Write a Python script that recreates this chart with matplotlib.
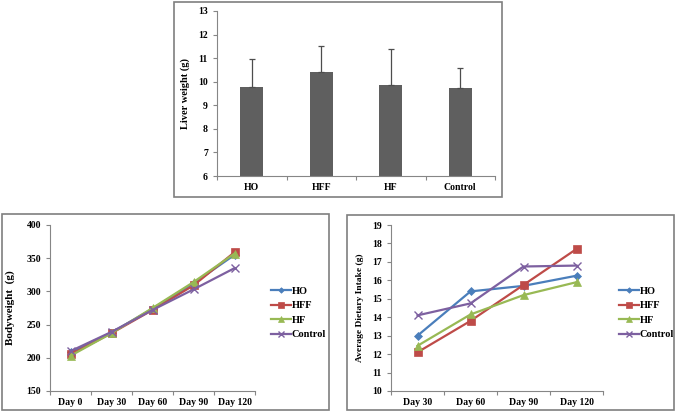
import matplotlib
matplotlib.use("Agg")
import matplotlib.pyplot as plt
from matplotlib.patches import Rectangle
import numpy as np

plt.rcParams['font.family'] = ['Liberation Serif', 'DejaVu Serif']
plt.rcParams['font.weight'] = 'bold'

# Data
liver_groups = ["HO", "HFF", "HF", "Control"]
liver_means = [9.77, 10.43, 9.88, 9.73]
liver_err = [1.21, 1.09, 1.52, 0.84]

bw_days = ["Day 0", "Day 30", "Day 60", "Day 90", "Day 120"]
bw_HO = [208, 238, 274, 312, 355]
bw_HFF = [205, 237, 272, 309, 359]
bw_HF = [203, 237, 275, 314, 357]
bw_Control = [210, 239, 272, 303, 335]

di_days = ["Day 30", "Day 60", "Day 90", "Day 120"]
di_HO = [13.0, 15.4, 15.7, 16.25]
di_HFF = [12.1, 13.8, 15.75, 17.7]
di_HF = [12.45, 14.15, 15.2, 15.9]
di_Control = [14.1, 14.75, 16.75, 16.8]

series_names = ["HO", "HFF", "HF", "Control"]
colors = ["#4a7ebb", "#be4b48", "#98b954", "#7d60a0"]
markers = ["D", "s", "^", "x"]
msizes = [4, 5.5, 5.5, 6]

W, H = 676, 413
fig = plt.figure(figsize=(W/100, H/100), dpi=100)

def ax_px(l, t, r, b):
    return fig.add_axes([l/W, 1-b/H, (r-l)/W, (b-t)/H])

def box_px(l, t, r, b):
    fig.patches.append(Rectangle((l/W, 1-b/H), (r-l)/W, (b-t)/H, transform=fig.transFigure,
                                 fill=False, edgecolor="#7f7f7f", linewidth=1.2))

TICK_FS = 7

def style(ax, ncat):
    for s in ["top", "right"]:
        ax.spines[s].set_visible(False)
    for s in ["left", "bottom"]:
        ax.spines[s].set_color("#868686")
        ax.spines[s].set_linewidth(0.8)
    ax.set_xlim(-0.5, ncat-0.5)
    ax.set_xticks(np.arange(-0.5, ncat, 1.0))
    ax.set_xticks(np.arange(ncat), minor=True)
    ax.tick_params(axis='x', which='major', length=3, color="#868686", labelbottom=False)
    ax.tick_params(axis='x', which='minor', length=0, labelsize=TICK_FS, pad=5)
    ax.tick_params(axis='y', length=3, color="#868686", labelsize=TICK_FS)

def bold_ticks(ax):
    for lab in ax.get_yticklabels() + ax.get_xticklabels(minor=True):
        lab.set_fontweight('bold')

# Boxes
box_px(174, 2, 502, 197)
box_px(2, 214, 329, 410)
box_px(347, 215, 674, 410)

# Top bar chart
ax1 = ax_px(217, 11, 495, 176)
x = np.arange(len(liver_groups))
ax1.bar(x, liver_means, width=0.33, color="#5f5f5f", zorder=2)
ax1.errorbar(x, liver_means, yerr=[np.zeros(len(liver_err)), liver_err], fmt='none',
             ecolor="#4d4d4d", elinewidth=0.9, capsize=2.5, capthick=0.9, zorder=3)
style(ax1, 4)
ax1.set_xticklabels(liver_groups, minor=True)
ax1.set_ylim(6, 13)
ax1.set_yticks(range(6, 14))
bold_ticks(ax1)
ax1.set_ylabel("Liver weight (g)", fontsize=7.5, fontweight='bold', labelpad=6)

leg_kw = dict(frameon=False, prop={'size': 7.5, 'weight': 'bold'}, handlelength=1.9,
              handletextpad=0.1, labelspacing=0.5, borderaxespad=0, markerscale=0.7,
              bbox_transform=fig.transFigure, loc='center left')

# Bottom left line chart
ax2 = ax_px(50, 225, 255, 391)
xb = np.arange(len(bw_days))
for name, vals, c, m, ms in zip(series_names, [bw_HO, bw_HFF, bw_HF, bw_Control], colors, markers, msizes):
    ax2.plot(xb, vals, color=c, marker=m, markersize=ms, linewidth=1.6, label=name,
             markeredgewidth=1.0 if m == 'x' else 0.5)
style(ax2, 5)
ax2.set_xticklabels(bw_days, minor=True)
ax2.set_ylim(150, 400)
ax2.set_yticks(range(150, 401, 50))
bold_ticks(ax2)
ax2.set_ylabel("Bodyweight  (g)", fontsize=8, fontweight='bold', labelpad=8)
ax2.legend(bbox_to_anchor=(267/W, 1-313/H), **leg_kw)

# Bottom right line chart
ax3 = ax_px(391, 225, 603, 391)
xd = np.arange(len(di_days))
for name, vals, c, m, ms in zip(series_names, [di_HO, di_HFF, di_HF, di_Control], colors, markers, msizes):
    ax3.plot(xd, vals, color=c, marker=m, markersize=ms, linewidth=1.6, label=name,
             markeredgewidth=1.0 if m == 'x' else 0.5)
style(ax3, 4)
ax3.set_xticklabels(di_days, minor=True)
ax3.set_ylim(10, 19)
ax3.set_yticks(range(10, 20))
bold_ticks(ax3)
ax3.set_ylabel("Average Dietary Intake (g)", fontsize=6.8, fontweight='bold', labelpad=6)
ax3.legend(bbox_to_anchor=(615/W, 1-313/H), **leg_kw)

fig.savefig("out.png", dpi=100)
